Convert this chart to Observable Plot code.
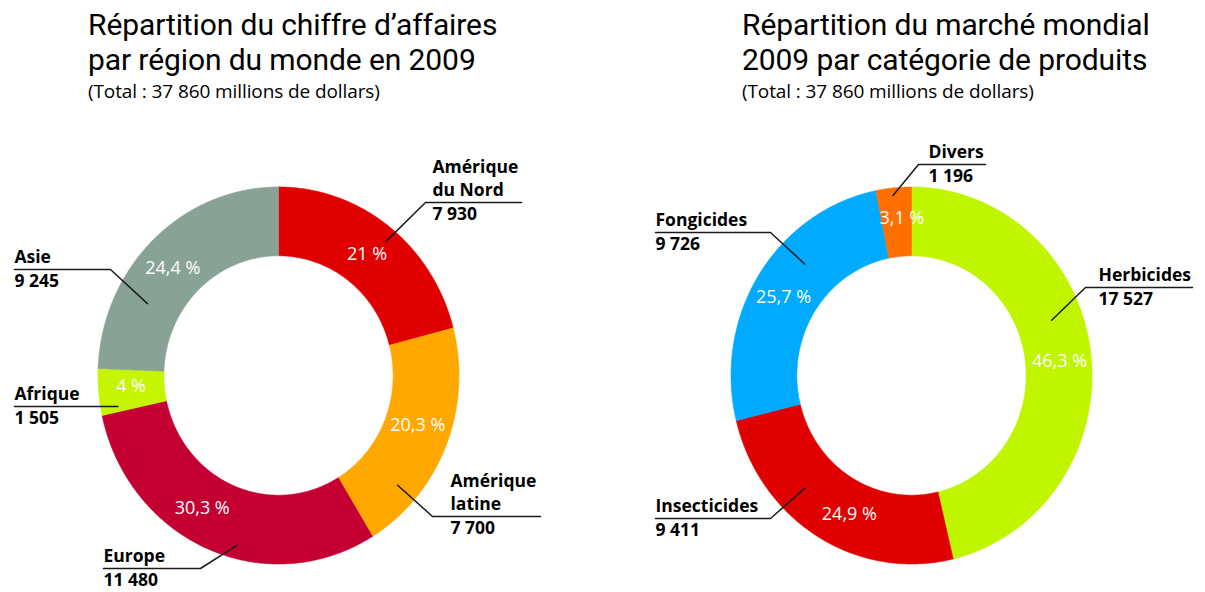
<!DOCTYPE html>
<html><head><meta charset="utf-8">
<script src="https://cdn.jsdelivr.net/npm/d3@7"></script>
<script src="https://cdn.jsdelivr.net/npm/@observablehq/plot@0.6"></script>
<style>
body{margin:0;background:#fff;font-family:"Open Sans",sans-serif;color:#000}
#wrap{position:relative;width:1205px;height:592px;overflow:hidden}
#header{position:relative;height:110px}
.hdr{position:absolute;top:7px}
.t{font-family:Roboto,"Open Sans",sans-serif;font-size:30px;line-height:35px;letter-spacing:-0.1px}
.s{font-size:19px;line-height:22px;margin-top:3px;letter-spacing:-0.1px}
#chart svg{display:block}
</style></head><body>
<div id="wrap">
 <div id="header">
  <div class="hdr" style="left:88px"><div class="t">Répartition du chiffre d’affaires<br>par région du monde en 2009</div><div class="s">(Total : 37 860 millions de dollars)</div></div>
  <div class="hdr" style="left:742px"><div class="t">Répartition du marché mondial<br>2009 par catégorie de produits</div><div class="s">(Total : 37 860 millions de dollars)</div></div>
 </div>
 <div id="chart"></div>
</div>
<script>
// ---- data ----
const regions = ["Amérique\ndu Nord", "Amérique\nlatine", "Europe", "Afrique", "Asie"];
const regionValues = [7930, 7700, 11480, 1505, 9245];
const regionValueLabels = ["7 930", "7 700", "11 480", "1 505", "9 245"];
const regionPct = ["21 %", "20,3 %", "30,3 %", "4 %", "24,4 %"];
const regionColors = ["#e00000", "#ffa800", "#c40032", "#c6f500", "#88a396"];

const products = ["Herbicides", "Insecticides", "Fongicides", "Divers"];
const productValues = [17527, 9411, 9726, 1196];
const productValueLabels = ["17 527", "9 411", "9 726", "1 196"];
const productPct = ["46,3 %", "24,9 %", "25,7 %", "3,1 %"];
const productColors = ["#c0f500", "#e00000", "#00aaff", "#ff7000"];

// ---- layout (annotation placement, screen px relative to donut centre) ----
// ring anchor: angle (turn fraction from top, clockwise) and radius (outer = 1)
const regionCallouts = [
  {a: 0.111, r: 0.93, tx: 154, uy: -173, ux0: 147, ux1: 243, bend: 0},
  {a: 0.365, r: 0.88, tx: 172, uy: 141, ux0: 154, ux1: 262, bend: 0},
  {a: 0.540, r: 0.93, tx: -175, uy: 193, ux0: -175, ux1: -78, bend: 1},
  {a: 0.721, r: 0.905, tx: -264, uy: 31, ux0: -264, ux1: -161, bend: 1},
  {a: 0.827, r: 0.82, tx: -264, uy: -106, ux0: -264, ux1: -168, bend: 1}
];
const productCallouts = [
  {a: 0.1925, r: 0.83, tx: 187, uy: -88, ux0: 174, ux1: 281, bend: 0},
  {a: 0.624, r: 0.84, tx: -256, uy: 143, ux0: -256, ux1: -141, bend: 1},
  {a: 0.875, r: 0.835, tx: -256, uy: -143, ux0: -256, ux1: -141, bend: 1},
  {a: 0.983, r: 0.96, tx: 17, uy: -211, ux0: 7, ux1: 74, bend: 0}
];
// small nudges of the percentage labels (px)
const regionPctShift = [[-2, 1], [2, -8], [-18, -9], [0, -3], [-3, 4]];
const productPctShift = [[1, 4], [15, 7], [-3, 5], [5, -3]];

const W = 1205, H = 482, TOP = 110;
const PXX = 180.5, PXY = 188.5;      // px per radius unit
const CY = 375 - TOP;                 // donut centre in svg px
const LEFT_CX = 278, RIGHT_CX = 911;
const INNER = 0.635, LABEL_R = 0.82;

const donuts = [
  {ox: 0, names: regions, values: regionValues, valueLabels: regionValueLabels, pct: regionPct, colors: regionColors, callouts: regionCallouts, shift: regionPctShift},
  {ox: (RIGHT_CX - LEFT_CX) / PXX, names: products, values: productValues, valueLabels: productValueLabels, pct: productPct, colors: productColors, callouts: productCallouts, shift: productPctShift}
];

const marks = [];
const pctRows = [], nameRows = [], valRows = [];
for (const d of donuts) {
  const total = d3.sum(d.values);
  let acc = 0;
  d.values.forEach((v, i) => {
    const a0 = acc / total, a1 = (acc + v) / total;
    acc += v;
    const n = Math.max(4, Math.ceil((a1 - a0) * 720));
    const pts = [];
    for (let k = 0; k <= n; k++) {
      const a = 2 * Math.PI * (a0 + (a1 - a0) * k / n);
      pts.push({x: d.ox + Math.sin(a), y: Math.cos(a)});
    }
    for (let k = n; k >= 0; k--) {
      const a = 2 * Math.PI * (a0 + (a1 - a0) * k / n);
      pts.push({x: d.ox + INNER * Math.sin(a), y: INNER * Math.cos(a)});
    }
    pts.push(pts[0]);
    marks.push(Plot.line(pts, {x: "x", y: "y", fill: d.colors[i], stroke: d.colors[i], strokeWidth: 0.6}));
    const am = 2 * Math.PI * (a0 + a1) / 2;
    const sh = d.shift[i];
    pctRows.push({x: d.ox + LABEL_R * Math.sin(am) + sh[0] / PXX, y: LABEL_R * Math.cos(am) - sh[1] / PXY, t: d.pct[i]});
    // callout
    const c = d.callouts[i];
    const ar = 2 * Math.PI * c.a;
    const ring = {x: d.ox + c.r * Math.sin(ar), y: c.r * Math.cos(ar)};
    const uy = -c.uy / PXY;
    const p0 = {x: d.ox + c.ux0 / PXX, y: uy}, p1 = {x: d.ox + c.ux1 / PXX, y: uy};
    const path = c.bend === 0 ? [ring, p0, p1] : [p0, p1, ring];
    marks.push(Plot.line(path, {x: "x", y: "y", stroke: "#1a1a1a", strokeWidth: 1.5}));
    nameRows.push({x: d.ox + c.tx / PXX, y: uy, t: d.names[i]});
    valRows.push({x: d.ox + c.tx / PXX, y: uy, t: d.valueLabels[i]});
  });
}

marks.push(Plot.text(pctRows, {x: "x", y: "y", text: "t", fill: "white", fontSize: 18}));
marks.push(Plot.text(nameRows, {x: "x", y: "y", text: "t", fill: "#000", fontSize: 17.5, fontWeight: "bold",
  textAnchor: "start", lineAnchor: "bottom", lineHeight: 1.3, dy: -7}));
marks.push(Plot.text(valRows, {x: "x", y: "y", text: "t", fill: "#000", fontSize: 17.5, fontWeight: "bold",
  textAnchor: "start", lineAnchor: "middle", dy: 12}));

const chart = Plot.plot({
  width: W, height: H,
  marginTop: 0, marginBottom: 0, marginLeft: 0, marginRight: 0,
  x: {domain: [-LEFT_CX / PXX, (W - LEFT_CX) / PXX], range: [0, W], axis: null},
  y: {domain: [-(H - CY) / PXY, CY / PXY], range: [H, 0], axis: null},
  style: {fontFamily: "Open Sans", background: "white", overflow: "visible"},
  marks
});
document.getElementById("chart").appendChild(chart);
</script>
</body></html>
